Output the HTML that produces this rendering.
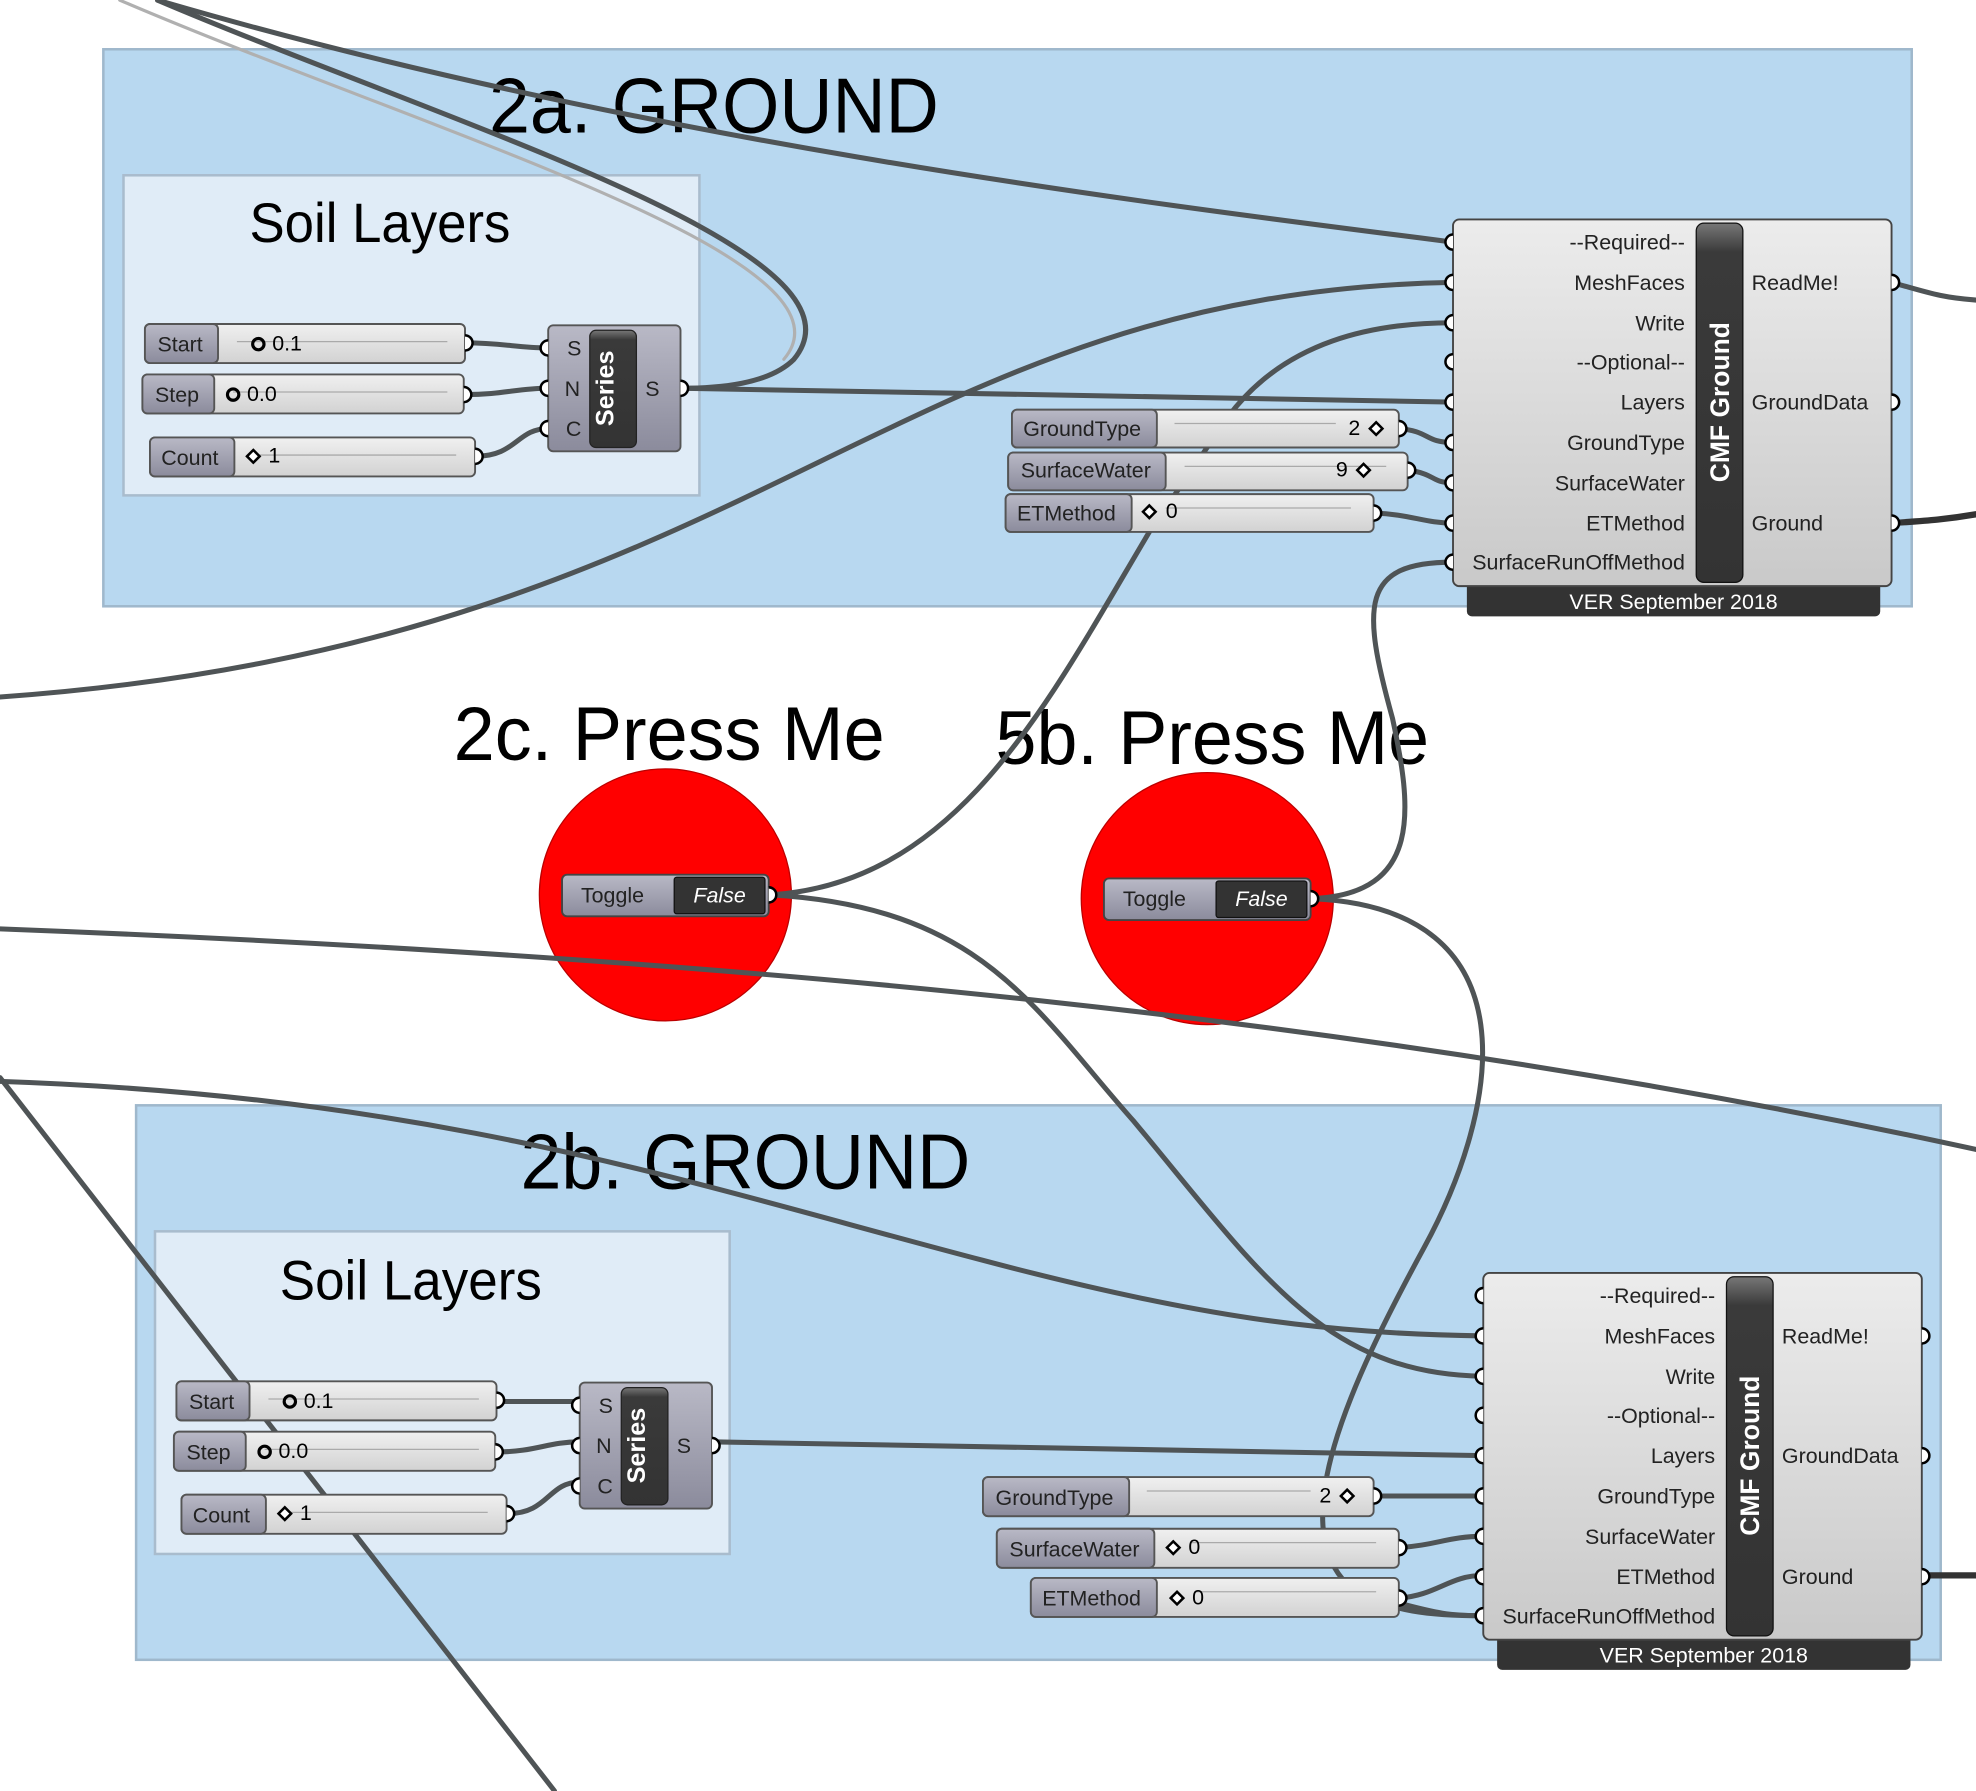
<!DOCTYPE html>
<html><head><meta charset="utf-8"><style>
html,body{margin:0;padding:0;background:#fff;}
svg{display:block;}
text{font-family:"Liberation Sans",sans-serif;}
.t{font-size:17px;fill:#222;}
.w{fill:none;stroke:#4f5456;stroke-width:4;stroke-linecap:round;}
</style></head><body>
<svg width="1976" height="1791" viewBox="0 0 1568 1421" xmlns="http://www.w3.org/2000/svg">
<defs>
<linearGradient id="cg" x1="0" y1="0" x2="0" y2="1"><stop offset="0" stop-color="#ececec"/><stop offset="1" stop-color="#c9c9c9"/></linearGradient>
<linearGradient id="lg" x1="0" y1="0" x2="0" y2="1"><stop offset="0" stop-color="#b9b9c6"/><stop offset="1" stop-color="#8b8b9c"/></linearGradient>
<linearGradient id="sg" x1="0" y1="0" x2="0" y2="1"><stop offset="0" stop-color="#f0f0f0"/><stop offset="1" stop-color="#d2d2d2"/></linearGradient>
<linearGradient id="db" x1="0" y1="0" x2="0" y2="1"><stop offset="0" stop-color="#777"/><stop offset="0.08" stop-color="#3a3a3a"/><stop offset="1" stop-color="#333"/></linearGradient>
</defs>

<!-- groups -->
<rect x="82" y="39" width="1435" height="442" fill="#b8d8f0" stroke="#9fb8cc" stroke-width="2"/>
<text x="388" y="105" font-size="62" textLength="357" lengthAdjust="spacingAndGlyphs">2a. GROUND</text>
<rect x="98" y="139" width="457" height="254" fill="#e0ecf7" stroke="#a9bccd" stroke-width="2"/>
<text x="198" y="192" font-size="44" textLength="207" lengthAdjust="spacingAndGlyphs">Soil Layers</text>

<rect x="108" y="877" width="1432" height="440" fill="#b8d8f0" stroke="#9fb8cc" stroke-width="2"/>
<text x="413" y="943" font-size="62" textLength="357" lengthAdjust="spacingAndGlyphs">2b. GROUND</text>
<rect x="123" y="977" width="456" height="256" fill="#e0ecf7" stroke="#a9bccd" stroke-width="2"/>
<text x="222" y="1031" font-size="44" textLength="208" lengthAdjust="spacingAndGlyphs">Soil Layers</text>

<text x="360" y="603" font-size="60" textLength="342" lengthAdjust="spacingAndGlyphs">2c. Press Me</text>
<text x="790" y="606" font-size="60" textLength="344" lengthAdjust="spacingAndGlyphs">5b. Press Me</text>
<circle cx="528" cy="710" r="100" fill="#ff0000" stroke="#b00" stroke-width="1"/>
<circle cx="958" cy="713" r="100" fill="#ff0000" stroke="#b00" stroke-width="1"/>

<!-- wires -->
<path class="w" d="M95,0 C340,105 690,205 622,285" style="stroke:#b0b0b0;stroke-width:2.5"/>
<path class="w" d="M125,0 C360,100 700,200 630,285 C610,305 570,308 540,308"/>
<path class="w" d="M125,0 C500,110 900,160 1153,192"/>
<path class="w" d="M0,553 C600,510 700,232 1153,224"/>
<path class="w" d="M540,308 C800,312 1000,318 1153,319"/>
<path class="w" d="M612,710 C760,700 830,560 912,422 L975,330 C1020,270 1090,256 1153,256"/>
<path class="w" d="M1040,713 C1130,710 1120,640 1105,570 C1080,480 1080,446 1153,446"/>
<path class="w" d="M1110,340 C1135,342 1130,351 1153,351"/>
<path class="w" d="M1117,373 C1140,376 1135,383 1153,383"/>
<path class="w" d="M1090,407 C1120,408 1130,415 1153,415"/>
<path class="w" d="M369,272 C400,272 410,276 435,276"/>
<path class="w" d="M369,313 C400,313 410,308 435,308"/>
<path class="w" d="M377,362 C410,362 410,340 435,340"/>
<path class="w" d="M1501,224 C1530,232 1540,236 1568,238"/>
<path class="w" d="M1501,415 C1530,413 1545,412 1568,408" style="stroke-width:5;stroke:#333"/>
<path class="w" d="M0,737 C600,760 1100,810 1568,912"/>
<path class="w" d="M0,858 C350,870 550,940 780,1000 C950,1045 1050,1058 1177,1060"/>
<path class="w" d="M612,710 C780,720 820,800 900,890 C1000,1010 1050,1090 1177,1092"/>
<path class="w" d="M1040,713 C1220,720 1190,880 1130,990 C1070,1100 1020,1210 1070,1258 C1100,1280 1140,1282 1177,1282"/>
<path class="w" d="M0,855 L440,1421"/>
<path class="w" d="M564,1144 C800,1148 1000,1153 1177,1155"/>
<path class="w" d="M1090,1187 L1177,1187"/>
<path class="w" d="M1110,1228 C1140,1226 1150,1219 1177,1219"/>
<path class="w" d="M1110,1268 C1140,1266 1150,1250 1177,1250"/>
<path class="w" d="M1110,1272 C1140,1280 1150,1282 1177,1282"/>
<path class="w" d="M1525,1250 L1568,1250" style="stroke-width:5;stroke:#333"/>
<path class="w" d="M395,1112 C420,1112 440,1112 460,1112"/>
<path class="w" d="M395,1152 C425,1152 435,1144 460,1144"/>
<path class="w" d="M403,1201 C435,1201 435,1176 460,1176"/>

<!-- sliders group 2a -->
<g id="sl">
<rect x="115" y="257" width="254" height="31" rx="4" fill="url(#sg)" stroke="#555" stroke-width="1.5"/>
<rect x="115" y="257" width="58" height="31" rx="4" fill="url(#lg)" stroke="#555" stroke-width="1.5"/>
<text class="t" x="125" y="279">Start</text>
<line x1="188" y1="271" x2="355" y2="271" stroke="#aaa"/>
<circle cx="205" cy="273" r="4.5" fill="none" stroke="#000" stroke-width="2.5"/>
<text x="216" y="278" font-size="17" fill="#000">0.1</text>
<path d="M369,266 a6,6 0 0 1 0,12" fill="#fff" stroke="#000" stroke-width="2"/>

<rect x="113" y="297" width="255" height="31" rx="4" fill="url(#sg)" stroke="#555" stroke-width="1.5"/>
<rect x="113" y="297" width="57" height="31" rx="4" fill="url(#lg)" stroke="#555" stroke-width="1.5"/>
<text class="t" x="123" y="319">Step</text>
<line x1="185" y1="311" x2="355" y2="311" stroke="#aaa"/>
<circle cx="185" cy="313" r="4.5" fill="none" stroke="#000" stroke-width="2.5"/>
<text x="196" y="318" font-size="17" fill="#000">0.0</text>
<path d="M368,307 a6,6 0 0 1 0,12" fill="#fff" stroke="#000" stroke-width="2"/>

<rect x="119" y="347" width="258" height="31" rx="4" fill="url(#sg)" stroke="#555" stroke-width="1.5"/>
<rect x="119" y="347" width="67" height="31" rx="4" fill="url(#lg)" stroke="#555" stroke-width="1.5"/>
<text class="t" x="128" y="369">Count</text>
<line x1="200" y1="361" x2="362" y2="361" stroke="#aaa"/>
<path d="M196,362 l5,-5 l5,5 l-5,5z" fill="#fff" stroke="#000" stroke-width="2"/>
<text x="213" y="367" font-size="17" fill="#000">1</text>
<path d="M377,356 a6,6 0 0 1 0,12" fill="#fff" stroke="#000" stroke-width="2"/>

<rect x="435" y="258" width="105" height="100" rx="4" fill="url(#lg)" stroke="#555" stroke-width="1.5"/>
<rect x="468" y="262" width="37" height="93" rx="5" fill="url(#db)" stroke="#222"/>
<text x="493" y="308" font-size="20" font-weight="bold" fill="#fff" text-anchor="middle" transform="rotate(-90 493 308)" dy="-6">Series</text>
<text class="t" x="450" y="282">S</text><text class="t" x="448" y="314">N</text><text class="t" x="449" y="346">C</text>
<text class="t" x="512" y="314">S</text>
<path d="M435,270 a6,6 0 0 0 0,12 M435,302 a6,6 0 0 0 0,12 M435,334 a6,6 0 0 0 0,12" fill="#fff" stroke="#000" stroke-width="2"/>
<path d="M540,302 a6,6 0 0 1 0,12" fill="#fff" stroke="#000" stroke-width="2"/>
</g>
<use href="#sl" transform="translate(25,839)"/>

<!-- CMF Ground component 2a -->
<g id="cmf">
<rect x="1164" y="455" width="328" height="34" rx="4" fill="#333"/>
<text x="1328" y="483" font-size="17" fill="#fff" text-anchor="middle">VER September 2018</text>
<rect x="1153" y="174" width="348" height="291" rx="5" fill="url(#cg)" stroke="#444" stroke-width="1.5"/>
<rect x="1346" y="177" width="37" height="285" rx="6" fill="url(#db)" stroke="#111"/>
<text x="1372" y="319" font-size="21" font-weight="bold" fill="#fff" text-anchor="middle" transform="rotate(-90 1372 319)">CMF Ground</text>
<g class="t" text-anchor="end">
<text x="1337" y="198">--Required--</text>
<text x="1337" y="230">MeshFaces</text>
<text x="1337" y="262">Write</text>
<text x="1337" y="293">--Optional--</text>
<text x="1337" y="325">Layers</text>
<text x="1337" y="357">GroundType</text>
<text x="1337" y="389">SurfaceWater</text>
<text x="1337" y="421">ETMethod</text>
<text x="1337" y="452">SurfaceRunOffMethod</text>
</g>
<text class="t" x="1390" y="230">ReadMe!</text>
<text class="t" x="1390" y="325">GroundData</text>
<text class="t" x="1390" y="421">Ground</text>
<path d="M1153,186 a6,6 0 0 0 0,12 M1153,218 a6,6 0 0 0 0,12 M1153,250 a6,6 0 0 0 0,12 M1153,281 a6,6 0 0 0 0,12 M1153,313 a6,6 0 0 0 0,12 M1153,345 a6,6 0 0 0 0,12 M1153,377 a6,6 0 0 0 0,12 M1153,409 a6,6 0 0 0 0,12 M1153,440 a6,6 0 0 0 0,12" fill="#fff" stroke="#000" stroke-width="2"/>
<path d="M1501,218 a6,6 0 0 1 0,12 M1501,313 a6,6 0 0 1 0,12 M1501,409 a6,6 0 0 1 0,12" fill="#fff" stroke="#000" stroke-width="2"/>
</g>
<use href="#cmf" transform="translate(24,836)"/>

<!-- 2a right sliders -->
<rect x="803" y="325" width="307" height="30" rx="4" fill="url(#sg)" stroke="#555" stroke-width="1.5"/>
<rect x="803" y="325" width="115" height="30" rx="4" fill="url(#lg)" stroke="#555" stroke-width="1.5"/>
<text class="t" x="812" y="346">GroundType</text>
<line x1="932" y1="336" x2="1060" y2="336" stroke="#aaa"/>
<text x="1070" y="345" font-size="17" fill="#000">2</text>
<path d="M1087,340 l5,-5 l5,5 l-5,5z" fill="#fff" stroke="#000" stroke-width="2"/>
<path d="M1110,334 a6,6 0 0 1 0,12" fill="#fff" stroke="#000" stroke-width="2"/>

<rect x="800" y="359" width="317" height="30" rx="4" fill="url(#sg)" stroke="#555" stroke-width="1.5"/>
<rect x="800" y="359" width="125" height="30" rx="4" fill="url(#lg)" stroke="#555" stroke-width="1.5"/>
<text class="t" x="810" y="379">SurfaceWater</text>
<line x1="940" y1="370" x2="1100" y2="370" stroke="#aaa"/>
<text x="1060" y="378" font-size="17" fill="#000">9</text>
<path d="M1077,373 l5,-5 l5,5 l-5,5z" fill="#fff" stroke="#000" stroke-width="2"/>
<path d="M1117,367 a6,6 0 0 1 0,12" fill="#fff" stroke="#000" stroke-width="2"/>

<rect x="798" y="392" width="292" height="30" rx="4" fill="url(#sg)" stroke="#555" stroke-width="1.5"/>
<rect x="798" y="392" width="100" height="30" rx="4" fill="url(#lg)" stroke="#555" stroke-width="1.5"/>
<text class="t" x="807" y="413">ETMethod</text>
<line x1="925" y1="403" x2="1072" y2="403" stroke="#aaa"/>
<path d="M907,406 l5,-5 l5,5 l-5,5z" fill="#fff" stroke="#000" stroke-width="2"/>
<text x="925" y="411" font-size="17" fill="#000">0</text>
<path d="M1090,401 a6,6 0 0 1 0,12" fill="#fff" stroke="#000" stroke-width="2"/>

<!-- 2b right sliders -->
<rect x="780" y="1172" width="310" height="31" rx="4" fill="url(#sg)" stroke="#555" stroke-width="1.5"/>
<rect x="780" y="1172" width="116" height="31" rx="4" fill="url(#lg)" stroke="#555" stroke-width="1.5"/>
<text class="t" x="790" y="1194">GroundType</text>
<line x1="910" y1="1183" x2="1040" y2="1183" stroke="#aaa"/>
<text x="1047" y="1192" font-size="17" fill="#000">2</text>
<path d="M1064,1187 l5,-5 l5,5 l-5,5z" fill="#fff" stroke="#000" stroke-width="2"/>
<path d="M1090,1181 a6,6 0 0 1 0,12" fill="#fff" stroke="#000" stroke-width="2"/>

<rect x="791" y="1213" width="319" height="31" rx="4" fill="url(#sg)" stroke="#555" stroke-width="1.5"/>
<rect x="791" y="1213" width="125" height="31" rx="4" fill="url(#lg)" stroke="#555" stroke-width="1.5"/>
<text class="t" x="801" y="1235">SurfaceWater</text>
<line x1="945" y1="1224" x2="1092" y2="1224" stroke="#aaa"/>
<path d="M926,1228 l5,-5 l5,5 l-5,5z" fill="#fff" stroke="#000" stroke-width="2"/>
<text x="943" y="1233" font-size="17" fill="#000">0</text>
<path d="M1110,1222 a6,6 0 0 1 0,12" fill="#fff" stroke="#000" stroke-width="2"/>

<rect x="818" y="1252" width="292" height="31" rx="4" fill="url(#sg)" stroke="#555" stroke-width="1.5"/>
<rect x="818" y="1252" width="100" height="31" rx="4" fill="url(#lg)" stroke="#555" stroke-width="1.5"/>
<text class="t" x="827" y="1274">ETMethod</text>
<line x1="948" y1="1263" x2="1092" y2="1263" stroke="#aaa"/>
<path d="M929,1268 l5,-5 l5,5 l-5,5z" fill="#fff" stroke="#000" stroke-width="2"/>
<text x="946" y="1273" font-size="17" fill="#000">0</text>
<path d="M1110,1262 a6,6 0 0 1 0,12" fill="#fff" stroke="#000" stroke-width="2"/>

<!-- toggles -->
<g id="tg">
<rect x="446" y="694" width="164" height="33" rx="4" fill="url(#lg)" stroke="#444" stroke-width="1.5"/>
<text class="t" x="461" y="716">Toggle</text>
<rect x="535" y="696" width="72" height="29" rx="2" fill="#333" stroke="#111"/>
<text x="571" y="716" font-size="17" font-style="italic" fill="#fff" text-anchor="middle">False</text>
<path d="M610,704 a6,6 0 0 1 0,12" fill="#fff" stroke="#000" stroke-width="2"/>
</g>
<use href="#tg" transform="translate(430,3)"/>
</svg>
</body></html>
